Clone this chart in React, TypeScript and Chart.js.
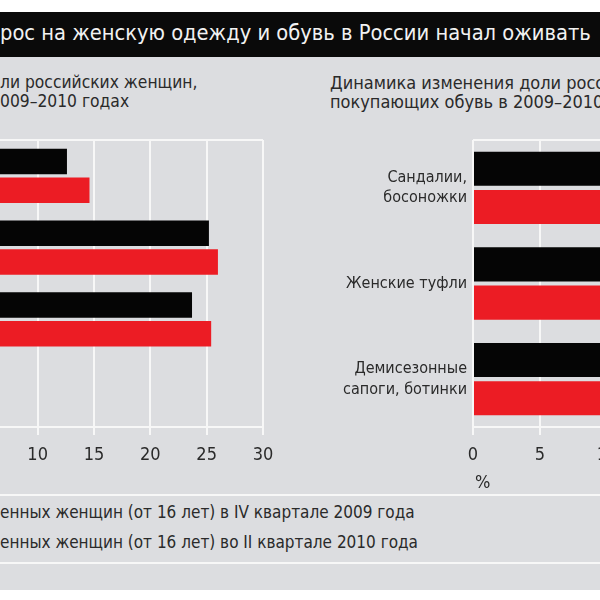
import React, { useEffect, useRef } from 'react';
import { Chart, registerables } from 'chart.js';

Chart.register(...registerables);

const FONT = "'Liberation Sans Narrow', 'DejaVu Sans Condensed', 'Arial Narrow', sans-serif";
const BLACK = '#050505';
const RED = '#ec1c24';
const PANEL = '#dcdde0';
const TEXT = '#2a2a2a';
const GRID = '#f7f7f7';

// Left chart (clothing) — category names lie outside the visible crop
const clothesCategories = ['', '', '', ''];
const clothes2009 = [12.6, 25.2, 23.7, null];
const clothes2010 = [14.6, 26.0, 25.4, null];

// Right chart (footwear)
const shoeCategories = [['Сандалии,', 'босоножки'], ['Женские туфли'], ['Демисезонные', 'сапоги, ботинки']];
const shoes2009 = [13.5, 16.5, 15.0];
const shoes2010 = [15.5, 18.0, 17.0];

const seriesNames = ['в IV квартале 2009 года', 'во II квартале 2010 года'];

function makeConfig(labels: any[], a: (number | null)[], b: (number | null)[], max: number, yWidth: number, showY: boolean): any {
  return {
    type: 'bar',
    data: {
      labels,
      datasets: [
        { label: seriesNames[0], data: a, backgroundColor: BLACK, borderWidth: 0 },
        { label: seriesNames[1], data: b, backgroundColor: RED, borderWidth: 0 },
      ],
    },
    options: {
      indexAxis: 'y',
      animation: false,
      responsive: false,
      maintainAspectRatio: false,
      layout: { padding: { top: 20, right: 20, left: 0, bottom: 0 } },
      datasets: { bar: { categoryPercentage: 0.8, barPercentage: 0.89 } },
      plugins: { legend: { display: false }, tooltip: { enabled: false }, title: { display: false } },
      scales: {
        x: {
          min: 0,
          max,
          ticks: { stepSize: 5, color: TEXT, font: { family: FONT, size: 18 }, padding: 10 },
          grid: { color: GRID, lineWidth: 2, tickLength: 8, drawTicks: true },
          border: { display: true, color: GRID, width: 2 },
          afterFit: (s: any) => { s.height = 60; s.paddingLeft = 0; s.paddingRight = 0; },
        },
        y: {
          ticks: { display: showY, color: TEXT, font: { family: FONT, size: 16, lineHeight: 1.3 }, padding: 6 },
          grid: {
            offset: true,
            drawTicks: false,
            lineWidth: 2,
            color: (ctx: any) => (ctx.type === 'scale' || ctx.index === 0 ? GRID : 'rgba(0,0,0,0)'),
          },
          border: { display: false },
          afterFit: (s: any) => { s.width = yWidth; s.paddingTop = 0; s.paddingBottom = 0; },
        },
      },
    },
  };
}

function BarCanvas(props: { config: any; left: number; top: number; width: number; height: number }) {
  const ref = useRef<HTMLCanvasElement | null>(null);
  useEffect(() => {
    if (!ref.current) return;
    const chart = new Chart(ref.current, props.config);
    return () => chart.destroy();
  }, []);
  return (
    <canvas
      ref={ref}
      width={props.width}
      height={props.height}
      style={{ position: 'absolute', left: props.left, top: props.top, width: props.width, height: props.height }}
    />
  );
}

const txt = (extra: any): any => ({
  position: 'absolute',
  whiteSpace: 'nowrap',
  fontFamily: FONT,
  color: TEXT,
  ...extra,
});

export default function App() {
  const leftConfig = makeConfig(clothesCategories, clothes2009, clothes2010, 30, 225, false);
  const rightConfig = makeConfig(shoeCategories, shoes2009, shoes2010, 20, 173, true);
  return (
    <div style={{ position: 'fixed', left: 0, top: 0, width: 600, height: 600, overflow: 'hidden', background: '#ffffff' }}>
      <div style={{ position: 'absolute', left: 0, top: 12, width: 600, height: 45, background: '#0a0a0a' }} />
      <div style={txt({ left: 0, top: 19, fontSize: 21.7, lineHeight: '28px', color: '#f2f2f2' })}>
        рос на женскую одежду и обувь в России начал оживать
      </div>
      <div style={{ position: 'absolute', left: 0, top: 57, width: 600, height: 533, background: PANEL }} />
      <div style={txt({ left: 0, top: 73, fontSize: 17.3, lineHeight: '19px' })}>
        ли российских женщин,<br />009–2010 годах
      </div>
      <div style={txt({ left: 330, top: 73, fontSize: 18, lineHeight: '19px' })}>
        Динамика изменения доли российских<br />покупающих обувь в 2009–2010 годах
      </div>
      <BarCanvas config={leftConfig} left={-300} top={120} width={583} height={367} />
      <BarCanvas config={rightConfig} left={300} top={120} width={461} height={367} />
      <div style={txt({ left: 475, top: 472, fontSize: 18, lineHeight: '20px' })}>%</div>
      <div style={{ position: 'absolute', left: 0, top: 494, width: 600, height: 2, background: GRID }} />
      <div style={txt({ left: 0, top: 502, fontSize: 17, lineHeight: '20px' })}>
        енных женщин (от 16 лет) в IV квартале 2009 года
      </div>
      <div style={txt({ left: 0, top: 532, fontSize: 17, lineHeight: '20px' })}>
        енных женщин (от 16 лет) во II квартале 2010 года
      </div>
      <div style={{ position: 'absolute', left: 0, top: 562, width: 600, height: 2, background: GRID }} />
    </div>
  );
}
